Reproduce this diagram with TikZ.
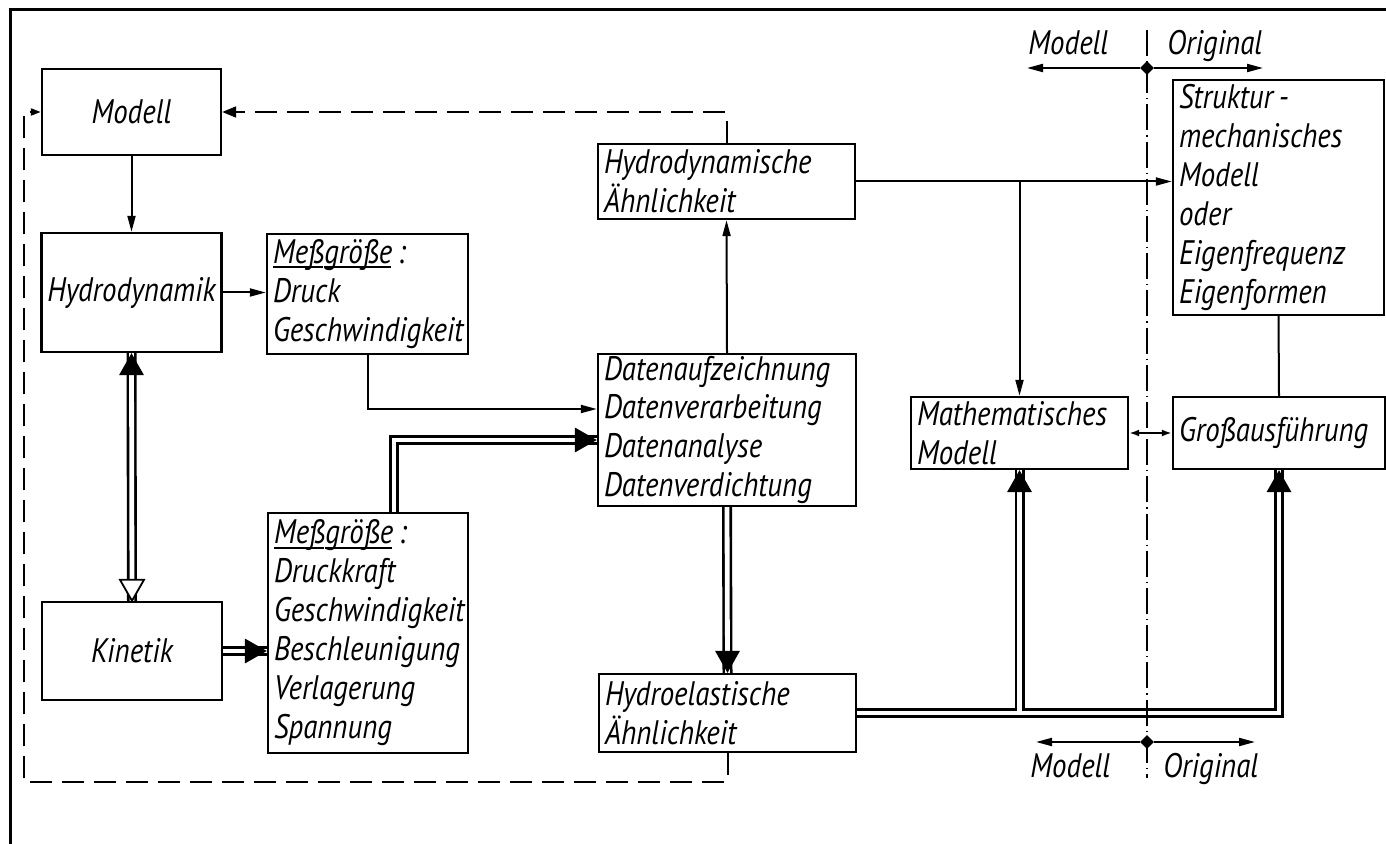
\documentclass[tikz,border=0pt]{standalone}
\usepackage{fontspec}
\setmainfont{PT Sans}[FakeStretch=0.85]
\usetikzlibrary{arrows.meta,calc,shapes.geometric}
\hyphenpenalty=10000
\hbadness=10000
\hfuzz=20pt
\newcommand\myul[1]{\setbox0\hbox{#1}\rlap{\rule[-2.4pt]{\dimexpr\wd0-0.8pt\relax}{0.9pt}}\box0}
\begin{document}
\begin{tikzpicture}[x=0.5pt,y=-0.5pt,
  every node/.style={font=\fontsize{17}{19.5}\selectfont\itshape},
  box/.style={draw, line width=1.2pt, inner ysep=0pt, inner xsep=3pt},
  boxc/.style={box, align=center},
  boxl/.style={box, align=left},
  conn/.style={line width=1pt, -{Triangle[length=8pt,width=4pt]}},
  plain/.style={line width=1pt},
  fb/.style={line width=1pt, dash pattern=on 11pt off 5pt},
  dblo/.style={line width=5pt},
  dbli/.style={line width=2.4pt, white},
  centerline/.style={line width=0.7pt, dash pattern=on 13pt off 2.5pt on 0.6pt off 2.5pt},
  lbl/.style={inner sep=0pt, anchor=base west},
  side/.style={line width=1pt, -{Triangle[length=8pt,width=4pt]}}
]
\useasboundingbox (0,0) rectangle (1386,844);
% frame
\draw[line width=1.5pt] (1386,10) -- (10,10) -- (10,844);

% boxes
\node[boxc, minimum width=89.5pt, minimum height=43pt] (modell) at (131.5,112) {Modell};
\node[boxc, minimum width=89.5pt, minimum height=59.5pt] (hydro) at (131.5,292.5) {Hydrodynamik};
\node[boxc, minimum width=90pt, minimum height=49pt] (kin) at (132,651) {Kinetik};
\node[boxl, minimum width=100.5pt, minimum height=60pt, text width=94.5pt] (mess1) at (367.5,294)
  {\myul{Meß}\myul{größe}\,:\\Druck\\Geschwindigkeit};
\node[boxl, minimum width=100pt, minimum height=120pt, text width=94pt] (mess2) at (368,633)
  {\myul{Meß}\myul{größe}\,:\\Druckkraft\\Geschwindigkeit\\Beschleunigung\\Verlagerung\\Spannung};
\node[boxl, minimum width=128.5pt, minimum height=37.5pt, text width=122.5pt] (hdae) at (726.5,181.5)
  {Hydrodynamische\\Ähnlichkeit};
\node[boxl, minimum width=129pt, minimum height=76pt, text width=123pt] (daten) at (727,430)
  {Datenaufzeichnung\\Datenverarbeitung\\Datenanalyse\\Datenverdichtung};
\node[boxl, minimum width=128.5pt, minimum height=39pt, text width=122.5pt] (hela) at (727.5,713)
  {Hydroelastische\\Ähnlichkeit};
\node[boxl, minimum width=108.5pt, minimum height=36pt, text width=102.5pt] (math) at (1019.5,433)
  {Mathematisches\\Modell};
\node[boxl, minimum width=106pt, minimum height=36pt, text width=100pt] (gross) at (1279,433)
  {Großausführung};
\node[boxl, minimum width=105.5pt, minimum height=117.5pt, text width=99.5pt] (struk) at (1278.5,197.5)
  {Struktur\,-\\mechanisches\\Modell\\oder\\Eigenfrequenz\\Eigenformen};

% single connectors
\draw[conn] (modell.south) -- (hydro.north);
\draw[conn] (hydro.east) -- (hydro.east -| mess1.west);
\draw[conn] (mess1.south) |- ($(daten.west)+(0,-21)$);
\draw[conn] (daten.north) -- (hdae.south);
\draw[conn] (hdae.east) -- (hdae.east -| struk.west);
\draw[conn] (math.north |- hdae.east) -- (math.north);
\draw[plain] (struk.south) -- (gross.north);
\draw[line width=1pt, {Latex[length=5pt,width=3.5pt]}-{Latex[length=5pt,width=3.5pt]}] (math.east) -- (gross.west);

% dashed feedback
\coordinate (fbc) at (24,782);
\draw[fb, -{Triangle[length=7pt,width=5.5pt]}] (hdae.north) |- (modell.east);
\draw[fb, -{Triangle[length=5pt,width=3.5pt]}] (hela.south) |- (fbc) |- (modell.west);

% double connectors
\coordinate (t2) at (kin.east -| mess2.west);
\coordinate (t3) at ($(daten.west)+(0,10)$);
\coordinate (s3) at ($(mess2.north)+(26,0)$);
\draw[dblo] (hydro.south) -- (kin.north);
\draw[dblo] (kin.east) -- (t2);
\draw[dblo] (s3) |- (t3);
\draw[dblo] (daten.south) -- (hela.north);
\draw[dblo] (hela.east) -| (math.south);
\draw[dblo] (hela.east) -| (gross.south);
\draw[dbli] (hydro.south) -- (kin.north);
\draw[dbli] (kin.east) -- (t2);
\draw[dbli] (s3) |- (t3);
\draw[dbli] (daten.south) -- (hela.north);
\draw[dbli] (hela.east) -| (math.south);
\draw[dbli] (hela.east) -| (gross.south);
% arrow heads of double connectors
\fill (hydro.south) -- ++(-6.25pt,-11pt) -- ++(12.5pt,0pt) -- cycle;
\filldraw[fill=white, line width=0.9pt] (kin.north) -- ++(-6pt,10.5pt) -- ++(12pt,0pt) -- cycle;
\fill (t2) -- ++(-11pt,6.25pt) -- ++(0pt,-12.5pt) -- cycle;
\fill (t3) -- ++(-11pt,6.25pt) -- ++(0pt,-12.5pt) -- cycle;
\fill (hela.north) -- ++(-6.25pt,11pt) -- ++(12.5pt,0pt) -- cycle;
\fill (math.south) -- ++(-6.25pt,-11pt) -- ++(12.5pt,0pt) -- cycle;
\fill (gross.south) -- ++(-6.25pt,-11pt) -- ++(12.5pt,0pt) -- cycle;

% model / original divider
\coordinate (ctop) at (1147,30);
\coordinate (cbot) at (1147,778);
\draw[centerline] (ctop) -- (cbot);
\node[diamond, fill, inner sep=0pt, minimum size=7pt] (dtop) at (1147,68) {};
\node[diamond, fill, inner sep=0pt, minimum size=7pt] (dbot) at (1147,742) {};
\coordinate (tl) at (1027,68);
\coordinate (tr) at (1263,68);
\coordinate (bl) at (1036,742);
\coordinate (br) at (1255,742);
\draw[side] (dtop) -- (tl);
\draw[side] (dtop) -- (tr);
\draw[side] (dbot) -- (bl);
\draw[side] (dbot) -- (br);
\node[lbl] (lm1) at (1028,55) {Modell};
\node[lbl] (lo1) at (1167,55) {Original};
\node[lbl] (lm2) at (1030,777) {Modell};
\node[lbl] (lo2) at (1163,777) {Original};
\end{tikzpicture}
\end{document}
